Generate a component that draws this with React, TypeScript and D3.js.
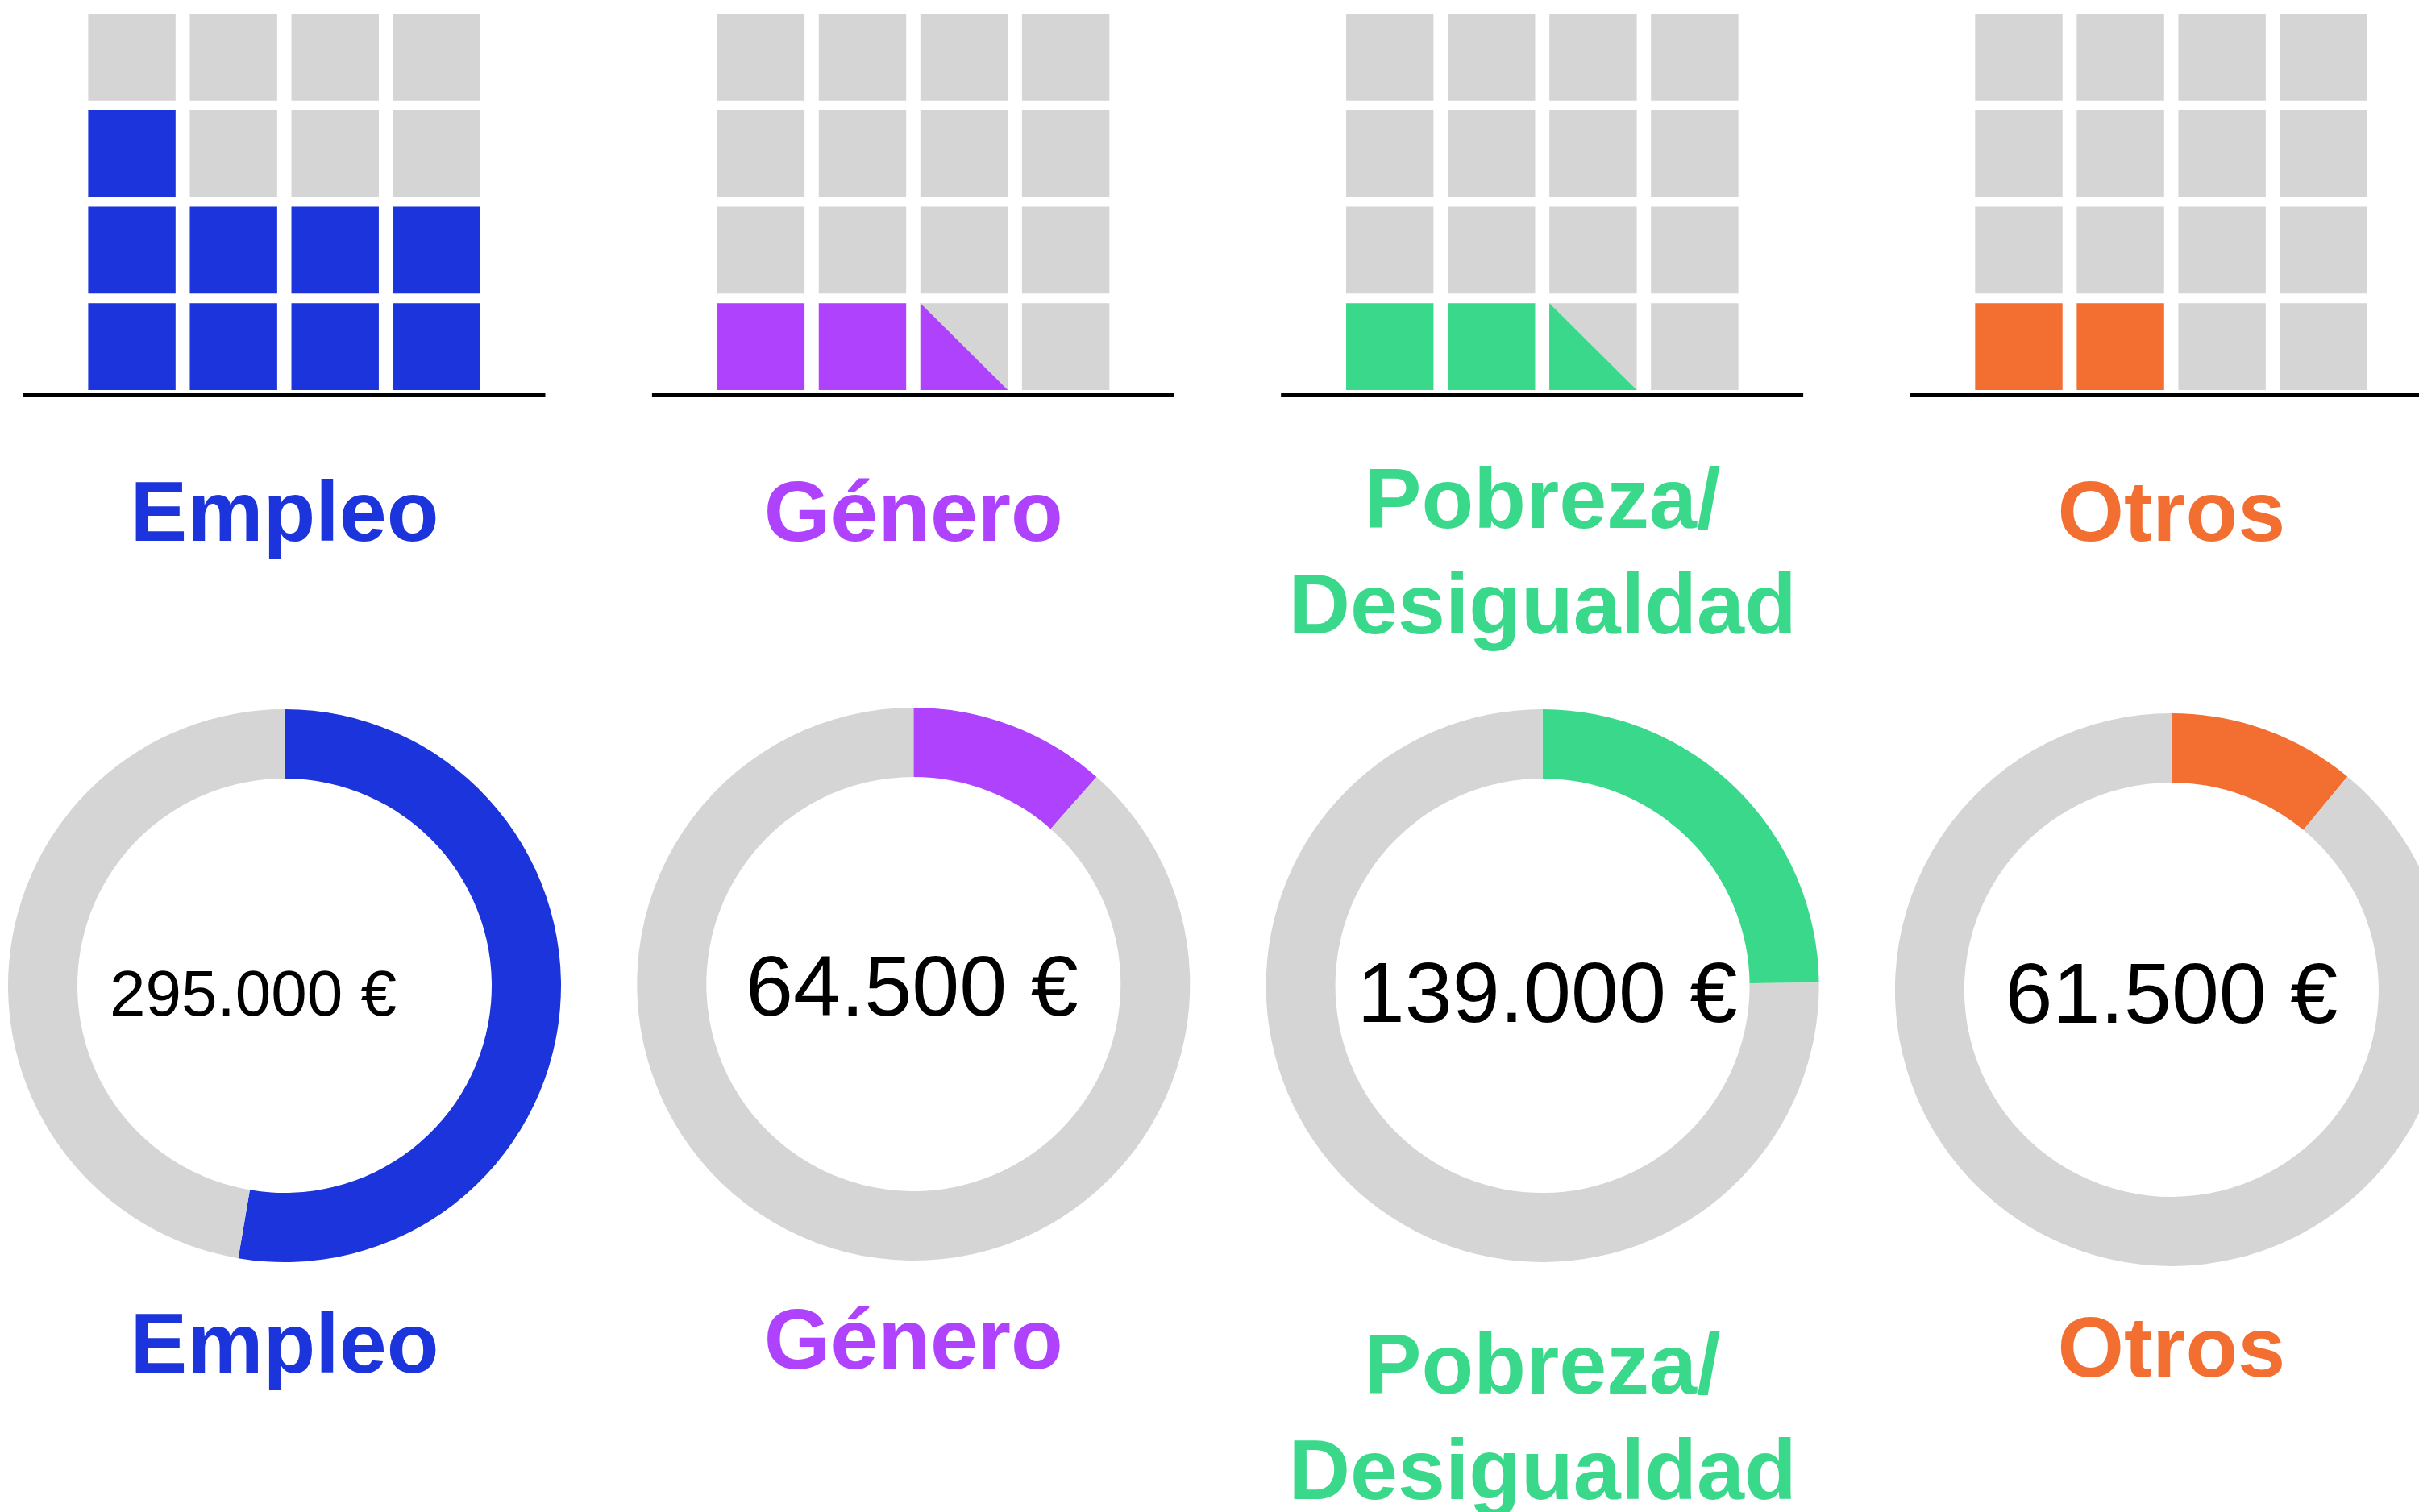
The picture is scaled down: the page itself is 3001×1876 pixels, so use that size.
import React from "react";
import * as d3 from "d3";

// ---- data ----
const categories = ["Empleo", "Género", "Pobreza/ Desigualdad", "Otros"];
const labelLines = [["Empleo"], ["Género"], ["Pobreza/", "Desigualdad"], ["Otros"]];
const waffleUnits = [9, 2.5, 2.5, 2]; // filled cells out of 16
const amounts = [295000, 64500, 139000, 61500];
const amountLabels = ["295.000 €", "64.500 €", "139.000 €", "61.500 €"];
const colors = ["#1B34DB", "#AE42FD", "#3AD88A", "#F26F31"];

// ---- layout ----
const W = 3001;
const H = 1876;
const GRAY = "#D5D5D5";
const PANEL_PITCH = 780.3;
const CENTER_X0 = 353;
const donutCY = [1223, 1221, 1223, 1228];
const amountDX = [-39, -2, 6, 0];
const amountBaseline = [1260, 1260, 1268, 1269];
const amountFont = [80, 106, 106, 106];
const topLabelY = [671, 671, 655, 671];
const bottomLabelY = [1703, 1698, 1729, 1708];
const LINE_H = 131;
const FONT = "'Liberation Sans', Arial, Helvetica, sans-serif";

export default function App() {
  const total = d3.sum(amounts);
  const panelX = d3.scaleLinear().domain([0, 1]).range([0, PANEL_PITCH]);
  const colScale = d3.scaleBand<number>().domain([0, 1, 2, 3]).range([109.4, 596]).paddingInner(0.14);
  const rowScale = d3.scaleBand<number>().domain([3, 2, 1, 0]).range([17, 484]).paddingInner(0.1);
  const arc = d3.arc<any>().innerRadius(257).outerRadius(343);
  const pie = d3.pie<number>().sort(null).value((d) => d);

  const cells = d3.range(16).map((k) => ({ k, row: Math.floor(k / 4), col: k % 4 }));

  return (
    <svg width={W} height={H} style={{ position: "absolute", left: 0, top: 0, display: "block", background: "#fff" }}>
      {categories.map((cat, i) => {
        const ox = panelX(i);
        const cx = CENTER_X0 + ox;
        const bw = colScale.bandwidth();
        const bh = rowScale.bandwidth();
        const arcs = pie([amounts[i], total - amounts[i]]);
        return (
          <g key={cat}>
            {/* waffle */}
            <g transform={`translate(${ox},0)`}>
              {cells.map((c) => {
                const x = colScale(c.col)!;
                const y = rowScale(c.row)!;
                const fill = waffleUnits[i] - c.k;
                return (
                  <g key={c.k}>
                    <rect x={x} y={y} width={bw} height={bh} fill={fill >= 1 ? colors[i] : GRAY} />
                    {fill > 0 && fill < 1 && (
                      <path d={`M${x},${y}L${x},${y + bh}L${x + bw},${y + bh}Z`} fill={colors[i]} />
                    )}
                  </g>
                );
              })}
              <line x1={28.6} x2={676.5} y1={489.7} y2={489.7} stroke="#000" strokeWidth={5} />
            </g>
            {/* top label */}
            <text x={cx} y={topLabelY[i]} textAnchor="middle" fontFamily={FONT} fontWeight="bold" fontSize={106} fill={colors[i]}>
              {labelLines[i].map((l, j) => (
                <tspan key={j} x={cx} y={topLabelY[i] + j * LINE_H}>{l}</tspan>
              ))}
            </text>
            {/* donut */}
            <g transform={`translate(${cx},${donutCY[i]})`}>
              {arcs.map((a, j) => (
                <path key={j} d={arc(a) as string} fill={j === 0 ? colors[i] : GRAY} />
              ))}
            </g>
            <text x={cx + amountDX[i]} y={amountBaseline[i]} textAnchor="middle" fontFamily={FONT} fontSize={amountFont[i]} fill="#000">
              {amountLabels[i]}
            </text>
            {/* bottom label */}
            <text x={cx} y={bottomLabelY[i]} textAnchor="middle" fontFamily={FONT} fontWeight="bold" fontSize={106} fill={colors[i]}>
              {labelLines[i].map((l, j) => (
                <tspan key={j} x={cx} y={bottomLabelY[i] + j * LINE_H}>{l}</tspan>
              ))}
            </text>
          </g>
        );
      })}
    </svg>
  );
}
